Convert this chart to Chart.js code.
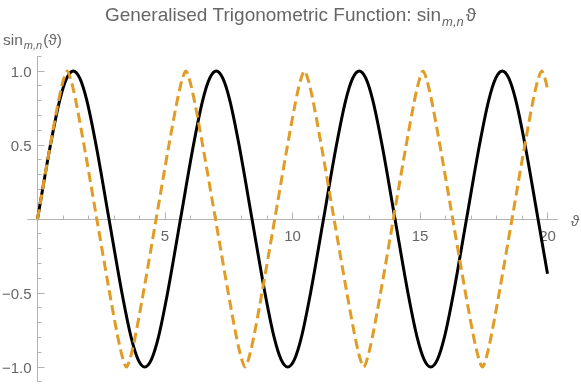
<!DOCTYPE html>
<html>
<head>
<meta charset="utf-8">
<script src="https://cdn.jsdelivr.net/npm/chart.js@4/dist/chart.umd.min.js"></script>
<style>
  html, body { margin: 0; padding: 0; background: #fff; }
  #chart { display: block; }
</style>
</head>
<body>
<canvas id="chart" width="581" height="386"></canvas>
<script>
// black solid curve (theta, value) at zeros / peaks / shoulders
const blackX = [
  0,
  0.508, 0.868, 1.142, 1.402, 1.662, 1.936, 2.296, 2.804,
  3.312, 3.672, 3.946, 4.206, 4.466, 4.740, 5.100, 5.608,
  6.116, 6.476, 6.750, 7.010, 7.270, 7.544, 7.904, 8.412,
  8.920, 9.280, 9.554, 9.814, 10.074, 10.348, 10.708, 11.216,
  11.724, 12.084, 12.358, 12.618, 12.878, 13.152, 13.512, 14.020,
  14.528, 14.888, 15.162, 15.422, 15.682, 15.956, 16.316, 16.824,
  17.332, 17.692, 17.966, 18.226, 18.486, 18.760, 19.120, 19.628,
  20
];
const blackY = [
  0,
  0.5, 0.8, 0.95, 1, 0.95, 0.8, 0.5, 0,
  -0.5, -0.8, -0.95, -1, -0.95, -0.8, -0.5, 0,
  0.5, 0.8, 0.95, 1, 0.95, 0.8, 0.5, 0,
  -0.5, -0.8, -0.95, -1, -0.95, -0.8, -0.5, 0,
  0.5, 0.8, 0.95, 1, 0.95, 0.8, 0.5, 0,
  -0.5, -0.8, -0.95, -1, -0.95, -0.8, -0.5, 0,
  0.5, 0.8, 0.95, 1, 0.95, 0.8, 0.5, 0,
  -0.37
];

// orange dashed curve, pointier peaks and shorter period
const orangeX = [
  0,
  0.503, 0.826, 0.954, 1.033, 1.163, 1.293, 1.372, 1.500, 1.823, 2.326,
  2.829, 3.152, 3.280, 3.359, 3.489, 3.619, 3.698, 3.826, 4.149, 4.652,
  5.155, 5.478, 5.606, 5.685, 5.815, 5.945, 6.024, 6.152, 6.475, 6.978,
  7.481, 7.804, 7.932, 8.011, 8.141, 8.271, 8.350, 8.478, 8.801, 9.304,
  9.807, 10.130, 10.258, 10.337, 10.467, 10.597, 10.676, 10.804, 11.127, 11.630,
  12.133, 12.456, 12.584, 12.663, 12.793, 12.923, 13.002, 13.130, 13.453, 13.956,
  14.459, 14.782, 14.910, 14.989, 15.119, 15.249, 15.328, 15.456, 15.779, 16.282,
  16.785, 17.108, 17.236, 17.315, 17.445, 17.575, 17.654, 17.782, 18.105, 18.608,
  19.111, 19.434, 19.562, 19.641, 19.771, 19.901, 20
];
const orangeY = [
  0,
  0.5, 0.8, 0.9, 0.95, 1, 0.95, 0.9, 0.8, 0.5, 0,
  -0.5, -0.8, -0.9, -0.95, -1, -0.95, -0.9, -0.8, -0.5, 0,
  0.5, 0.8, 0.9, 0.95, 1, 0.95, 0.9, 0.8, 0.5, 0,
  -0.5, -0.8, -0.9, -0.95, -1, -0.95, -0.9, -0.8, -0.5, 0,
  0.5, 0.8, 0.9, 0.95, 1, 0.95, 0.9, 0.8, 0.5, 0,
  -0.5, -0.8, -0.9, -0.95, -1, -0.95, -0.9, -0.8, -0.5, 0,
  0.5, 0.8, 0.9, 0.95, 1, 0.95, 0.9, 0.8, 0.5, 0,
  -0.5, -0.8, -0.9, -0.95, -1, -0.95, -0.9, -0.8, -0.5, 0,
  0.5, 0.8, 0.9, 0.95, 1, 0.95, 0.88
];

const xTicks = [5, 10, 15, 20];
const xTickLabels = ["5", "10", "15", "20"];
const yTicks = [-1, -0.5, 0.5, 1];
const yTickLabels = ["\u22121.0", "\u22120.5", "0.5", "1.0"];

const AXIS_COLOR = "#b3b3b3";
const TEXT_COLOR = "#666666";
const FONT = '"Liberation Sans", Arial, sans-serif';

function toPoints(xs, ys) {
  return xs.map((x, i) => ({ x: x, y: ys[i] }));
}

// draws "sin" + subscript "m,n" + rest, returns end x
function drawSinLabel(ctx, x, y, size, subSize, rest) {
  ctx.font = size + "px " + FONT;
  ctx.fillText("sin", x, y);
  x += ctx.measureText("sin").width;
  ctx.font = "italic " + subSize + "px " + FONT;
  ctx.fillText("m,n", x + 1, y + size * 0.27);
  x += ctx.measureText("m,n").width + 2;
  ctx.font = size + "px " + FONT;
  ctx.fillText(rest, x, y);
  return x + ctx.measureText(rest).width;
}

const axesPlugin = {
  id: "mathAxes",
  beforeDatasetsDraw(chart) {
    const { ctx, scales: { x, y } } = chart;
    const x0 = Math.floor(x.getPixelForValue(0)) + 0.5;
    const y0 = Math.floor(y.getPixelForValue(0)) + 0.5;

    ctx.save();
    ctx.strokeStyle = AXIS_COLOR;
    ctx.lineWidth = 1;
    ctx.beginPath();
    ctx.moveTo(x.left, y0);
    ctx.lineTo(x.right, y0);
    ctx.moveTo(x0, y.top);
    ctx.lineTo(x0, y.bottom);
    // ticks point into the plot: up from the x axis, right from the y axis
    for (let v = 1; v <= 20; v++) {
      const px = Math.floor(x.getPixelForValue(v)) + 0.5;
      const len = v % 5 === 0 ? 7 : 4;
      ctx.moveTo(px, y0);
      ctx.lineTo(px, y0 - len);
    }
    for (let k = -11; k <= 11; k++) {
      if (k === 0) continue;
      const py = Math.floor(y.getPixelForValue(k / 10)) + 0.5;
      const len = k % 5 === 0 ? 7 : 4;
      ctx.moveTo(x0, py);
      ctx.lineTo(x0 + len, py);
    }
    ctx.stroke();

    ctx.fillStyle = TEXT_COLOR;
    ctx.font = "15px " + FONT;
    ctx.textAlign = "center";
    ctx.textBaseline = "alphabetic";
    xTicks.forEach((v, i) => {
      ctx.fillText(xTickLabels[i], x.getPixelForValue(v), y0 + 21.5);
    });
    ctx.textAlign = "right";
    yTicks.forEach((v, i) => {
      ctx.fillText(yTickLabels[i], x0 - 6, y.getPixelForValue(v) + 5.5);
    });

    // axis labels
    ctx.textAlign = "left";
    ctx.font = "italic 15px " + FONT;
    ctx.fillText("\u03D1", x.right + 13, y0 + 6);
    drawSinLabel(ctx, 3, 45, 15.5, 11, "(\u03D1)");

    // title with subscript, centred on the canvas
    const head = "Generalised Trigonometric Function: sin";
    ctx.font = "19px " + FONT;
    let w = ctx.measureText(head).width;
    ctx.font = "italic 13px " + FONT;
    w += ctx.measureText("m,n").width + 3;
    ctx.font = "19px " + FONT;
    w += ctx.measureText("\u03D1").width;
    let tx = chart.width / 2 - w / 2;
    ctx.fillText(head, tx, 21);
    tx += ctx.measureText(head).width;
    ctx.font = "italic 13px " + FONT;
    ctx.fillText("m,n", tx + 1, 26);
    tx += ctx.measureText("m,n").width + 3;
    ctx.font = "19px " + FONT;
    ctx.fillText("\u03D1", tx, 21);
    ctx.restore();
  }
};

new Chart(document.getElementById("chart"), {
  type: "scatter",
  data: {
    datasets: [
      {
        data: toPoints(orangeX, orangeY),
        showLine: true,
        borderColor: "#e09c24",
        borderWidth: 3,
        borderDash: [10, 5],
        borderCapStyle: "butt",
        pointRadius: 0,
        cubicInterpolationMode: "monotone",
        fill: false
      },
      {
        data: toPoints(blackX, blackY),
        showLine: true,
        borderColor: "#000000",
        borderWidth: 3,
        pointRadius: 0,
        cubicInterpolationMode: "monotone",
        fill: false
      }
    ]
  },
  options: {
    responsive: false,
    animation: false,
    devicePixelRatio: 1,
    events: [],
    layout: { padding: { left: 27.3, right: 23.3, top: 56.2, bottom: 4.2 } },
    plugins: { legend: { display: false }, tooltip: { enabled: false }, title: { display: false } },
    scales: {
      x: { type: "linear", min: -0.4, max: 20.4, display: false },
      y: { type: "linear", min: -1.1, max: 1.1, display: false }
    }
  },
  plugins: [axesPlugin]
});
</script>
</body>
</html>
